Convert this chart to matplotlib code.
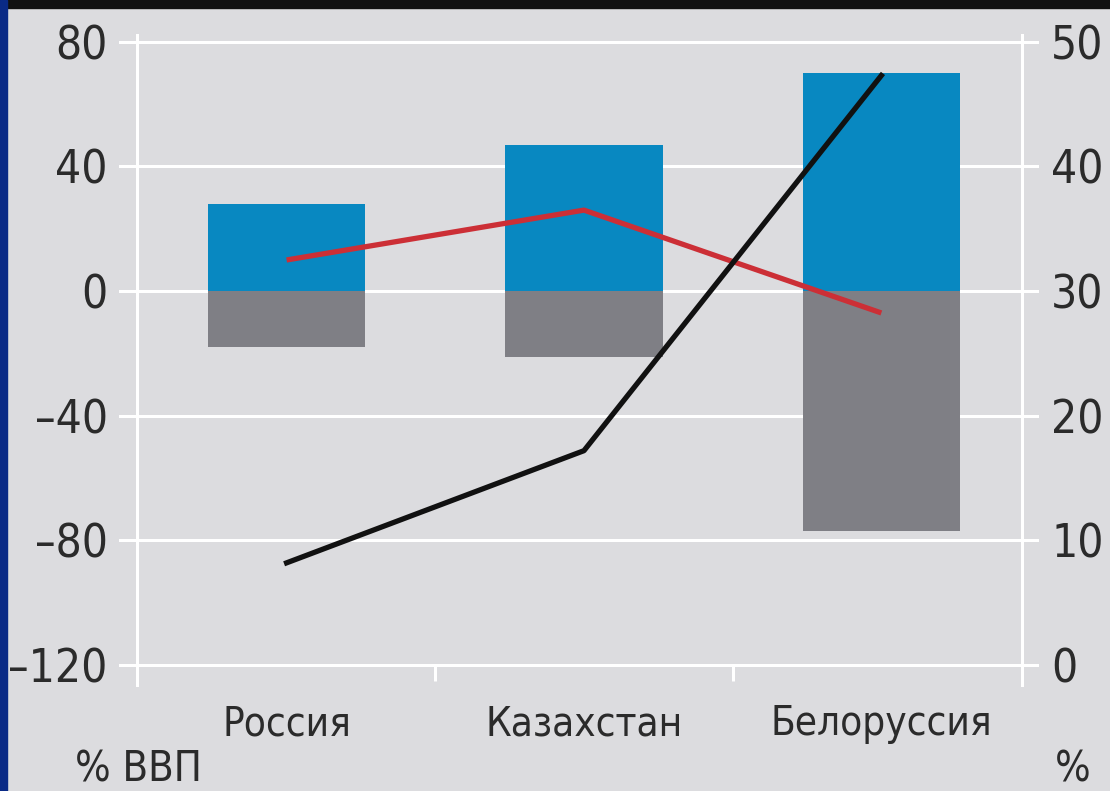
import matplotlib.pyplot as plt
from matplotlib import font_manager as fm
from matplotlib.patches import Rectangle

# --- data ---
countries = ["Россия", "Казахстан", "Белоруссия"]
exports = [28, 47, 70]          # % of GDP, blue bars
imports = [-18, -21, -77]       # % of GDP, grey bars
balance = [10, 26, -7]          # % of GDP, red line (left axis)
share = [8.2, 17.2, 47.3]       # %, black line (right axis)

left_ticks = [80, 40, 0, -40, -80, -120]
right_ticks = [50, 40, 30, 20, 10, 0]

# look for a narrow face; the reference uses a condensed grotesque
fonts = fm.fontManager.ttflist
narrow = [f for f in fonts if ("Narrow" in f.name or "Condensed" in f.name
                               or f.stretch in ("condensed", "semi-condensed"))
          and f.weight in (400, "normal", "regular", "book")]
if narrow:
    fam, stretch, fs, fs_cat = narrow[0].name, narrow[0].stretch, 33, 29
else:
    fam, stretch, fs, fs_cat = "DejaVu Sans", "normal", 27, 24
plt.rcParams['font.family'] = [fam, 'DejaVu Sans']
plt.rcParams['font.stretch'] = stretch

bg = "#dcdcdf"
txt = "#2b2b2b"

fig = plt.figure(figsize=(11.1, 7.91), dpi=100, facecolor=bg)
W, H = 1110, 791

# frame decorations: black band on top, blue band on the left
fig.patches.append(Rectangle((0, 1 - 8 / H), 1, 8 / H, transform=fig.transFigure,
                             color="#111111", zorder=0))
fig.patches.append(Rectangle((0, 0), 7 / W, 1, transform=fig.transFigure,
                             color="#0a2a86", zorder=0))

ax = fig.add_axes([137 / W, (H - 685) / H, (1022 - 137) / W, 650 / H])
ax.set_facecolor(bg)
ax.set_xlim(-0.503, 2.473)
ax.set_ylim(-126.4, 82.2)

# gridlines, a bit wider than the plot area
for t in left_ticks:
    ax.axhline(t, xmin=-0.019, xmax=1.017, color="white", lw=2.2,
               clip_on=False, zorder=0)

x = range(len(countries))
ax.bar(x, exports, width=0.53, color="#0888c1", zorder=2)
ax.bar(x, imports, width=0.53, color="#7f7f85", zorder=2)
ax.plot(x, balance, color="#cc2f36", lw=3.8, zorder=3, solid_capstyle="butt")

# separators between categories below the last gridline
ax.vlines([0.5, 1.5], -125, -120, color="white", lw=2.2, zorder=1)

for side in ["top", "bottom"]:
    ax.spines[side].set_visible(False)
for side in ["left", "right"]:
    ax.spines[side].set_color("white")
    ax.spines[side].set_linewidth(2.2)

ax.set_yticks(left_ticks)
ax.set_yticklabels([str(t).replace("-", "\u2013") for t in left_ticks])
ax.set_xticks(list(x))
ax.set_xticklabels(countries)
ax.tick_params(axis="y", length=0, pad=21, labelsize=fs, labelcolor=txt)
ax.tick_params(axis="x", length=0, pad=14, labelsize=fs_cat, labelcolor=txt)

ax2 = ax.twinx()
lo, hi = ax.get_ylim()
ax2.set_ylim((lo + 120) / 4, (hi + 120) / 4)
ax2.plot(x, share, color="#111111", lw=3.8, zorder=3)
for s in ax2.spines.values():
    s.set_visible(False)
ax2.set_yticks(right_ticks)
ax2.tick_params(axis="y", length=0, pad=21, labelsize=fs, labelcolor=txt)

fig.text(75 / W, 1 / H, "% ВВП", fontsize=30, color=txt, ha="left", va="bottom")
fig.text(1055 / W, 1 / H, "%", fontsize=30, color=txt, ha="left", va="bottom")

fig.savefig("out.png", dpi=100, facecolor=bg)
